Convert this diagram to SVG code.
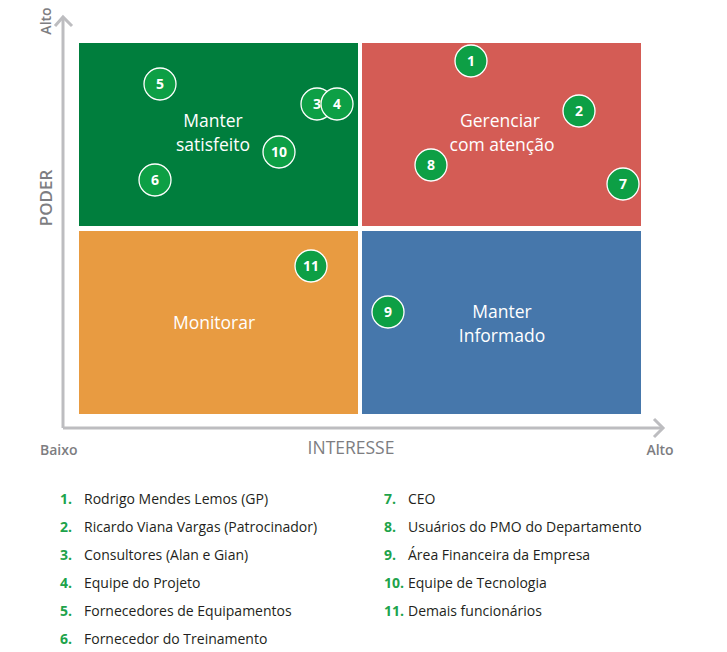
<svg xmlns="http://www.w3.org/2000/svg" width="727" height="652" viewBox="0 0 727 652">
<style>
.q{font-family:"Open Sans","Noto Sans",sans-serif;font-size:17.5px;font-weight:500;fill:#fff;text-anchor:middle}
.c circle{fill:#0d9f45;stroke:#fff;stroke-width:1.3}
.c text{font-family:"Open Sans","Noto Sans",sans-serif;font-size:14px;font-weight:bold;fill:#fff;text-anchor:middle}
.ax{fill:none;stroke:#bdbdc0;stroke-width:3}
.al{font-family:"Open Sans","Noto Sans",sans-serif;fill:#7d7d81}
.ln{font-family:"Open Sans","Noto Sans",sans-serif;font-size:14px;font-weight:bold;fill:#1ea34b}
.lt{font-family:"Open Sans","Noto Sans",sans-serif;font-size:14px;fill:#231f20}
</style>
<rect width="727" height="652" fill="#fff"/>
<g id="axes">
<polyline class="ax" points="63,428 63,17"/>
<polyline class="ax" points="55,26 63,17 72,26"/>
<polyline class="ax" points="63,428 662,428"/>
<polyline class="ax" points="654,419 663,428 654,437"/>
<text class="al" font-size="14" font-weight="600" transform="translate(51,21) rotate(-90)" text-anchor="middle">Alto</text>
<text class="al" font-size="17" font-weight="600" fill="#9a9a9d" transform="translate(52,198) rotate(-90)" text-anchor="middle">PODER</text>
<text class="al" font-size="14" font-weight="600" x="40" y="455">Baixo</text>
<text class="al" font-size="17.5" x="351" y="454" text-anchor="middle">INTERESSE</text>
<text class="al" font-size="14" font-weight="600" x="660" y="455" text-anchor="middle">Alto</text>
</g>
<g id="q-satisfeito">
<rect x="79" y="43" width="279" height="183" fill="#007e3d"/>
<text class="q" x="213" y="127">Manter</text>
<text class="q" x="213" y="151">satisfeito</text>
</g>
<g id="q-gerenciar">
<rect x="362" y="43" width="279" height="183" fill="#d45c55"/>
<text class="q" x="500" y="127">Gerenciar</text>
<text class="q" x="502" y="151">com atenção</text>
</g>
<g id="q-monitorar">
<rect x="79" y="231" width="279" height="183" fill="#e89b41"/>
<text class="q" x="214" y="329">Monitorar</text>
</g>
<g id="q-informado">
<rect x="362" y="231" width="279" height="183" fill="#4677ab"/>
<text class="q" x="502" y="318">Manter</text>
<text class="q" x="502" y="342">Informado</text>
</g>
<g id="n5" class="c"><circle cx="160" cy="84" r="16"/><text x="160" y="89">5</text></g>
<g id="n3" class="c"><circle cx="317" cy="104" r="16"/><text x="317" y="109">3</text></g>
<g id="n4" class="c"><circle cx="337" cy="104" r="16"/><text x="337" y="109">4</text></g>
<g id="n10" class="c"><circle cx="279" cy="152" r="16"/><text x="279" y="157">10</text></g>
<g id="n6" class="c"><circle cx="155" cy="180" r="16"/><text x="155" y="185">6</text></g>
<g id="n1" class="c"><circle cx="471" cy="61" r="16"/><text x="471" y="66">1</text></g>
<g id="n2" class="c"><circle cx="579" cy="111" r="16"/><text x="579" y="116">2</text></g>
<g id="n8" class="c"><circle cx="431" cy="165" r="16"/><text x="431" y="170">8</text></g>
<g id="n7" class="c"><circle cx="623" cy="184" r="16"/><text x="623" y="189">7</text></g>
<g id="n11" class="c"><circle cx="311" cy="266" r="16"/><text x="311" y="271">11</text></g>
<g id="n9" class="c"><circle cx="388" cy="312" r="16"/><text x="388" y="317">9</text></g>
<g id="legend">
<text class="ln" x="60" y="504">1.</text><text class="lt" x="84" y="504">Rodrigo Mendes Lemos (GP)</text>
<text class="ln" x="60" y="532">2.</text><text class="lt" x="84" y="532">Ricardo Viana Vargas (Patrocinador)</text>
<text class="ln" x="60" y="560">3.</text><text class="lt" x="84" y="560">Consultores (Alan e Gian)</text>
<text class="ln" x="60" y="588">4.</text><text class="lt" x="84" y="588">Equipe do Projeto</text>
<text class="ln" x="60" y="616">5.</text><text class="lt" x="84" y="616">Fornecedores de Equipamentos</text>
<text class="ln" x="60" y="644">6.</text><text class="lt" x="84" y="644">Fornecedor do Treinamento</text>
<text class="ln" x="384" y="504">7.</text><text class="lt" x="408" y="504">CEO</text>
<text class="ln" x="384" y="532">8.</text><text class="lt" x="408" y="532">Usuários do PMO do Departamento</text>
<text class="ln" x="384" y="560">9.</text><text class="lt" x="408" y="560">Área Financeira da Empresa</text>
<text class="ln" x="384" y="588">10.</text><text class="lt" x="408" y="588">Equipe de Tecnologia</text>
<text class="ln" x="384" y="616">11.</text><text class="lt" x="408" y="616">Demais funcionários</text>
</g>
</svg>
